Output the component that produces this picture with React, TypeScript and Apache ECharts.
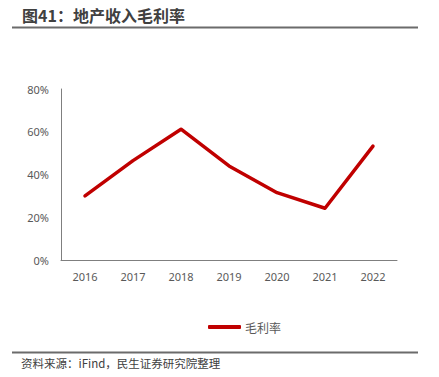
import React, { useEffect, useRef } from "react";
import * as echarts from "echarts";

const categories = ["2016", "2017", "2018", "2019", "2020", "2021", "2022"];
const grossMargin = [30.0, 46.5, 61.2, 44.0, 31.5, 24.2, 53.3];
const yTicks = [0, 20, 40, 60, 80];
const seriesName = "毛利率";
const titleText = "图41：地产收入毛利率";
const sourceText = "资料来源：iFind，民生证券研究院整理";

export default function App() {
  const ref = useRef<HTMLDivElement>(null);
  useEffect(() => {
    if (!ref.current) return;
    const chart = echarts.init(ref.current, null, { renderer: "svg" });
    const font = "'Microsoft YaHei', 'Noto Sans CJK SC', sans-serif";
    const numFont = "'Noto Sans', 'Liberation Sans', sans-serif";
    chart.setOption({
      animation: false,
      backgroundColor: "#ffffff",
      textStyle: { fontFamily: font },
      grid: { left: 61, right: 42, top: 89, bottom: 117 },
      legend: {
        data: [seriesName],
        left: 203,
        top: 316,
        itemWidth: 33,
        itemHeight: 4,
        itemGap: 4,
        icon: "roundRect",
        textStyle: { color: "#595959", fontSize: 12, fontFamily: font, padding: [0, 0, 0, -1] },
      },
      xAxis: {
        type: "category",
        data: categories,
        boundaryGap: true,
        axisLine: { show: true, lineStyle: { color: "#7f7f7f", width: 1 } },
        axisTick: { show: false },
        axisLabel: { color: "#595959", fontSize: 11, margin: 11, fontFamily: numFont },
      },
      yAxis: {
        type: "value",
        min: 0,
        max: 80,
        interval: 20,
        axisLine: { show: true, lineStyle: { color: "#7f7f7f", width: 1 } },
        axisTick: { show: false },
        splitLine: { show: false },
        axisLabel: {
          color: "#595959",
          fontSize: 11,
          margin: 12,
          fontFamily: numFont,
          formatter: (v: number) => (yTicks.includes(v) ? v + "%" : ""),
        },
      },
      series: [
        {
          name: seriesName,
          type: "line",
          data: grossMargin,
          symbol: "none",
          lineStyle: { color: "#c00000", width: 3.5, cap: "round", join: "round" },
          itemStyle: { color: "#c00000" },
        },
      ],
      graphic: [
        {
          type: "text",
          left: 22,
          top: 7,
          style: { text: titleText, fontSize: 16, fontWeight: "bold", fill: "#404040", fontFamily: font },
        },
        {
          type: "line",
          shape: { x1: 12, y1: 27.5, x2: 418, y2: 27.5 },
          style: { stroke: "#6b6b6b", lineWidth: 2 },
        },
        {
          type: "line",
          shape: { x1: 12, y1: 352.5, x2: 418, y2: 352.5 },
          style: { stroke: "#6b6b6b", lineWidth: 2 },
        },
        {
          type: "text",
          left: 21,
          top: 357,
          style: { text: sourceText, fontSize: 11.5, fill: "#404040", fontFamily: font },
        },
      ],
    });
    return () => chart.dispose();
  }, []);
  return <div ref={ref} style={{ position: "fixed", left: 0, top: 0, width: 439, height: 377 }} />;
}
